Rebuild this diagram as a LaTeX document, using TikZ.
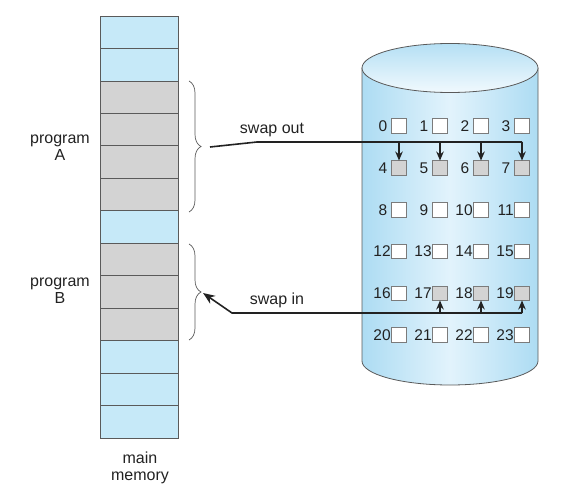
\documentclass[tikz,border=0pt]{standalone}
\usepackage{fontspec}
\setmainfont{Liberation Sans}
\usetikzlibrary{arrows.meta,decorations.pathreplacing,calc}
\definecolor{memblue}{HTML}{C6E9F8}
\definecolor{memgray}{HTML}{D3D3D3}
\definecolor{cylblue}{HTML}{ADDCF3}
\definecolor{cyllight}{HTML}{E2F3FC}
\definecolor{txt}{HTML}{222222}
\definecolor{edge}{HTML}{5A5A5A}
\tikzset{
  memcell/.style={draw=edge, line width=0.8pt, minimum width=78pt, minimum height=32.46pt, inner sep=0pt, outer sep=0pt},
  diskbox/.style={draw=edge!80, line width=0.7pt, minimum width=15pt, minimum height=14.5pt, inner sep=0pt, outer sep=0pt},
  lbl/.style={font=\fontsize{15.5}{16}\selectfont, text=txt, inner sep=0pt, anchor=base east},
  bigtxt/.style={font=\fontsize{16}{17}\selectfont, text=txt, align=center, inner sep=0pt},
  membrace/.style={decorate, decoration={brace, amplitude=12pt}, draw=edge, line width=0.7pt},
  conn/.style={draw=txt, line width=1.6pt},
  smallarr/.style={draw=txt, line width=1.4pt, -{Stealth[length=9pt,width=7.5pt]}},
}
\begin{document}
\begin{tikzpicture}[x=1pt,y=-1pt]
\useasboundingbox (0,0) rectangle (581,495);
% main memory
\foreach \i/\c in {0/memblue,1/memblue,2/memgray,3/memgray,4/memgray,5/memgray,6/memblue,7/memgray,8/memgray,9/memgray,10/memblue,11/memblue,12/memblue}{
  \pgfmathsetmacro{\yy}{16+32.46*\i+16.23}
  \node[memcell, fill=\c] (m\i) at (139,\yy) {};
}
\node[bigtxt] (pA) at (60,148) {program\\A};
\node[bigtxt] (pB) at (60,291) {program\\B};
\node[bigtxt] (mm) at (140,468) {main\\memory};
% braces
\draw[membrace] (189,81) -- (189,212);
\draw[membrace] (189,244) -- (189,340);
% disk cylinder
\shade[left color=cylblue, right color=cylblue, middle color=cyllight]
  (362,68) -- (362,361) .. controls (362,374.3) and (401.4,385) .. (450,385)
  .. controls (498.6,385) and (538,374.3) .. (538,361) -- (538,68) -- cycle;
\draw[edge, line width=0.8pt]
  (362,68) -- (362,361) .. controls (362,374.3) and (401.4,385) .. (450,385)
  .. controls (498.6,385) and (538,374.3) .. (538,361) -- (538,68);
\shade[top color=cylblue!90, bottom color=cyllight!50!white, draw=edge, line width=0.8pt] (450,68) ellipse [x radius=88, y radius=24.5];
% disk blocks
\foreach \r in {0,...,5}{
  \foreach \c in {0,...,3}{
    \pgfmathtruncatemacro{\n}{4*\r+\c}
    \pgfmathsetmacro{\xx}{399+41*\c}
    \pgfmathsetmacro{\yy}{126+41.8*\r}
    \pgfmathtruncatemacro{\isgray}{(\r==1) || (\r==4 && \c>0) ? 1 : 0}
    \ifnum\isgray=1 \def\bf{memgray}\else\def\bf{white}\fi
    \ifnum\n<10 \def\gap{4pt}\else\def\gap{0.6pt}\fi
    \node[diskbox, fill=\bf] (d\n) at (\xx,\yy) {};
    \node[lbl] (l\n) at ([xshift=-\gap, yshift=-5.5pt]d\n.west) {\n};
  }
}
% swap out
\node[bigtxt] (so) at (272,130) {swap out};
\coordinate (bA) at (210,147);
\coordinate (oA) at (257,142);
\draw[conn] (bA) -- (oA) -- (oA -| d7.north);
\foreach \k in {4,5,6,7}{
  \draw[smallarr] (oA -| d\k.north) -- (d\k.north);
}
% swap in
\node[bigtxt] (si) at (277,300) {swap in};
\coordinate (iB) at (232,313);
\coordinate (bB) at (203,293);
\draw[conn, -{Stealth[length=12pt,width=9.5pt]}] (iB -| d19.south) -- (iB) -- (bB);
\foreach \k in {17,18,19}{
  \draw[smallarr] (iB -| d\k.south) -- (d\k.south);
}
\end{tikzpicture}
\end{document}
